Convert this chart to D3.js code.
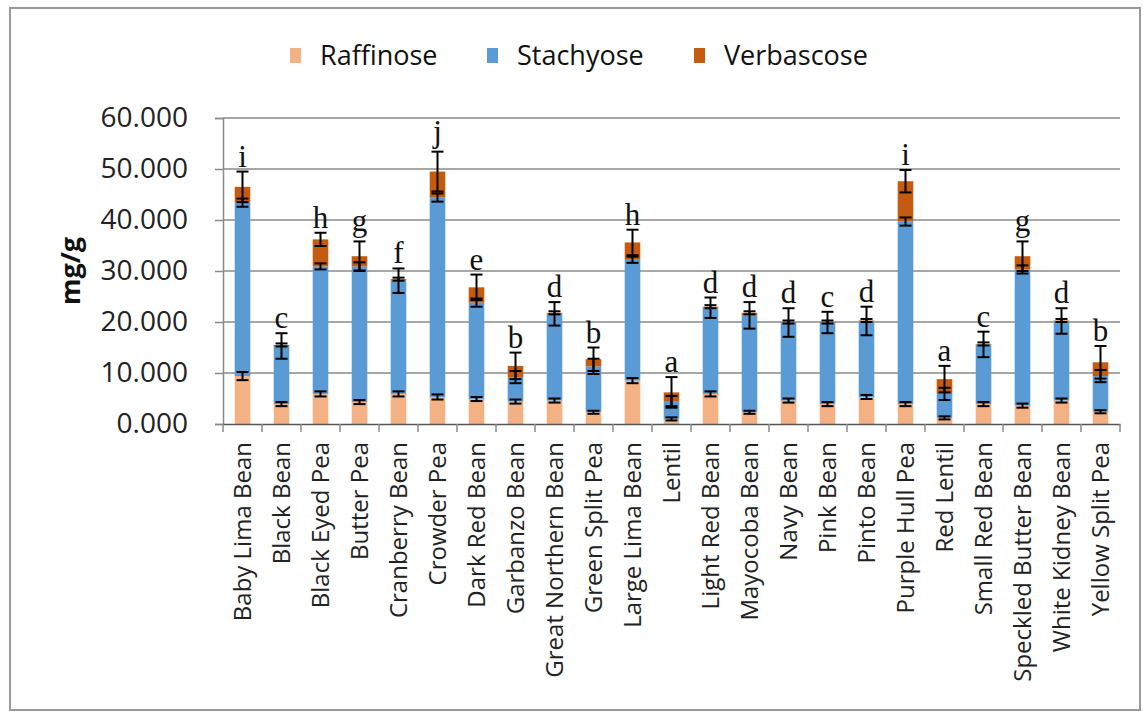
<!DOCTYPE html>
<html><head><meta charset="utf-8">
<script src="https://cdn.jsdelivr.net/npm/d3@7"></script>
<style>
html,body{margin:0;padding:0;background:#fff;}
svg{display:block;}
</style></head>
<body>
<script>
const categories = ["Baby Lima Bean","Black Bean","Black Eyed Pea","Butter Pea","Cranberry Bean","Crowder Pea","Dark Red Bean","Garbanzo Bean","Great Northern Bean","Green Split Pea","Large Lima Bean","Lentil","Light Red Bean","Mayocoba Bean","Navy Bean","Pink Bean","Pinto Bean","Purple Hull Pea","Red Lentil","Small Red Bean","Speckled Butter Bean","White Kidney Bean","Yellow Split Pea"];
const seriesNames = ["Raffinose","Stachyose","Verbascose"];
const raffinose  = [9.4,3.9,5.9,4.3,5.9,5.3,4.9,4.4,4.6,2.3,8.5,1.0,5.9,2.3,4.6,3.9,5.3,3.9,1.2,3.9,3.6,4.6,2.4];
const stachyose  = [34.0,11.4,25.0,26.6,22.2,39.1,18.9,4.8,17.0,9.0,23.7,3.5,16.9,19.0,15.3,16.0,14.9,35.8,4.7,11.7,26.7,15.6,7.0];
const verbascose = [3.1,0.2,5.3,2.0,0.3,5.1,3.0,2.2,0.2,1.4,3.4,1.7,0.2,0.5,0.1,0.1,0.1,7.9,2.9,0.1,2.6,0.1,2.7];
const raffinoseErr  = [0.8,0.4,0.5,0.4,0.5,0.5,0.4,0.4,0.4,0.3,0.5,0.3,0.5,0.3,0.4,0.4,0.4,0.4,0.3,0.4,0.4,0.4,0.3];
const stachyoseErr  = [0.8,2.5,0.6,0.8,2.4,0.8,0.8,1.2,2.3,1.5,0.6,1.0,2.0,2.6,2.8,2.1,2.8,0.8,1.2,2.5,0.8,2.5,1.2];
const verbascoseErr = [3.0,0.3,1.3,2.9,0.3,3.9,2.5,2.6,0.3,2.3,2.5,3.0,0.3,0.3,0.3,0.3,0.3,2.2,2.6,0.3,2.9,0.3,3.2];
const letters = ["i","c","h","g","f","j","e","b","d","b","h","a","d","d","d","c","d","i","a","c","g","d","b"];
const yTicks = [0,10,20,30,40,50,60];
const colors = {Raffinose:"#F4B183", Stachyose:"#5B9BD5", Verbascose:"#C55A11"};

const W = 1143, H = 712;
const svg = d3.select("body").append("svg").attr("width",W).attr("height",H);

// outer border
svg.append("rect").attr("x",10).attr("y",8).attr("width",1130).attr("height",702)
  .attr("fill","#fff").attr("stroke","#9a9a9a").attr("stroke-width",2);

const x = d3.scaleBand().domain(categories).range([223,1120]).paddingInner(0.6).paddingOuter(0.3);
const y = d3.scaleLinear().domain([0,60]).range([424,118]);

// gridlines
svg.append("g").selectAll("line").data(yTicks.filter(d=>d>0)).join("line")
  .attr("x1",223).attr("x2",1120).attr("y1",d=>y(d)).attr("y2",d=>y(d))
  .attr("stroke","#8a8a8a").attr("stroke-width",1.5);

// y axis
const yAxis = d3.axisLeft(y).tickValues(yTicks).tickFormat(d3.format(".3f")).tickSize(8).tickPadding(27);
const gy = svg.append("g").attr("transform","translate(223,0)").call(yAxis);
gy.select(".domain").attr("stroke","#8a8a8a").attr("stroke-width",1.5);
gy.selectAll(".tick line").attr("stroke","#8a8a8a").attr("stroke-width",1.5);
gy.selectAll(".tick text").attr("font-family","'Open Sans',sans-serif").attr("font-size",28).attr("fill","#222");

// stacked data
const rows = categories.map((c,i)=>({cat:c, Raffinose:raffinose[i], Stachyose:stachyose[i], Verbascose:verbascose[i]}));
const errs = {Raffinose:raffinoseErr, Stachyose:stachyoseErr, Verbascose:verbascoseErr};
const stack = d3.stack().keys(seriesNames)(rows);

svg.append("g").selectAll("g").data(stack).join("g")
  .attr("fill",d=>colors[d.key])
  .selectAll("rect").data(d=>d).join("rect")
  .attr("x",d=>x(d.data.cat)).attr("width",x.bandwidth())
  .attr("y",d=>y(d[1])).attr("height",d=>y(d[0])-y(d[1]));

// x axis
const xAxis = d3.axisBottom(x).tickSize(0).tickPadding(12);
const gx = svg.append("g").attr("transform","translate(0,424)").call(xAxis);
gx.select(".domain").attr("stroke","#555").attr("stroke-width",1.5);
gx.selectAll(".tick text")
  .attr("font-family","'Open Sans',sans-serif").attr("font-size",24).attr("fill","#222")
  .attr("text-anchor","end").attr("dy","0.35em")
  .attr("transform","translate(0,8) rotate(-90)")
  .attr("x",-10).attr("y",0);
// category boundary ticks
const gapHalf = (x.step()-x.bandwidth())/2;
svg.append("g").selectAll("line").data(categories.concat(["__end"])).join("line")
  .attr("x1",(d,i)=> i<categories.length ? x(d)-gapHalf : 1120)
  .attr("x2",(d,i)=> i<categories.length ? x(d)-gapHalf : 1120)
  .attr("y1",424).attr("y2",432).attr("stroke","#8a8a8a").attr("stroke-width",1.5);

// error bars
const eb = svg.append("g").attr("stroke","#000").attr("stroke-width",2);
stack.forEach(s=>{
  s.forEach((d,i)=>{
    const cx = x(d.data.cat)+x.bandwidth()/2;
    const e = errs[s.key][i];
    const t = d[1];
    eb.append("line").attr("x1",cx).attr("x2",cx).attr("y1",y(t+e)).attr("y2",y(t-e));
    eb.append("line").attr("x1",cx-6).attr("x2",cx+6).attr("y1",y(t+e)).attr("y2",y(t+e));
    eb.append("line").attr("x1",cx-6).attr("x2",cx+6).attr("y1",y(t-e)).attr("y2",y(t-e));
  });
});

// letters
const topStack = stack[stack.length-1];
svg.append("g").selectAll("text").data(topStack).join("text")
  .attr("x",d=>x(d.data.cat)+x.bandwidth()/2)
  .attr("y",(d,i)=>{
    const tops = seriesNames.map((k,j)=>stack[j][i][1]+errs[k][i]);
    return y(d3.max(tops))-(letters[i]==="j"||letters[i]==="g"?10:5);
  })
  .attr("text-anchor","middle")
  .attr("font-family","'Liberation Serif','Times New Roman',serif").attr("font-size",31).attr("fill","#111")
  .text((d,i)=>letters[i]);

// y title
svg.append("text").attr("transform","translate(80,271) rotate(-90)")
  .attr("text-anchor","middle").attr("font-family","'Open Sans',sans-serif")
  .attr("font-weight","bold").attr("font-size",27).attr("fill","#111").text("mg/g");

// legend
const legendItems = [{k:"Raffinose",x:290},{k:"Stachyose",x:487},{k:"Verbascose",x:694}];
const lg = svg.append("g");
legendItems.forEach(it=>{
  lg.append("rect").attr("x",it.x).attr("y",48).attr("width",11).attr("height",15).attr("fill",colors[it.k]);
  lg.append("text").attr("x",it.x+30).attr("y",56).attr("dy","0.35em")
    .attr("font-family","'Open Sans',sans-serif").attr("font-size",27).attr("fill","#111").text(it.k);
});
</script>
</body></html>
